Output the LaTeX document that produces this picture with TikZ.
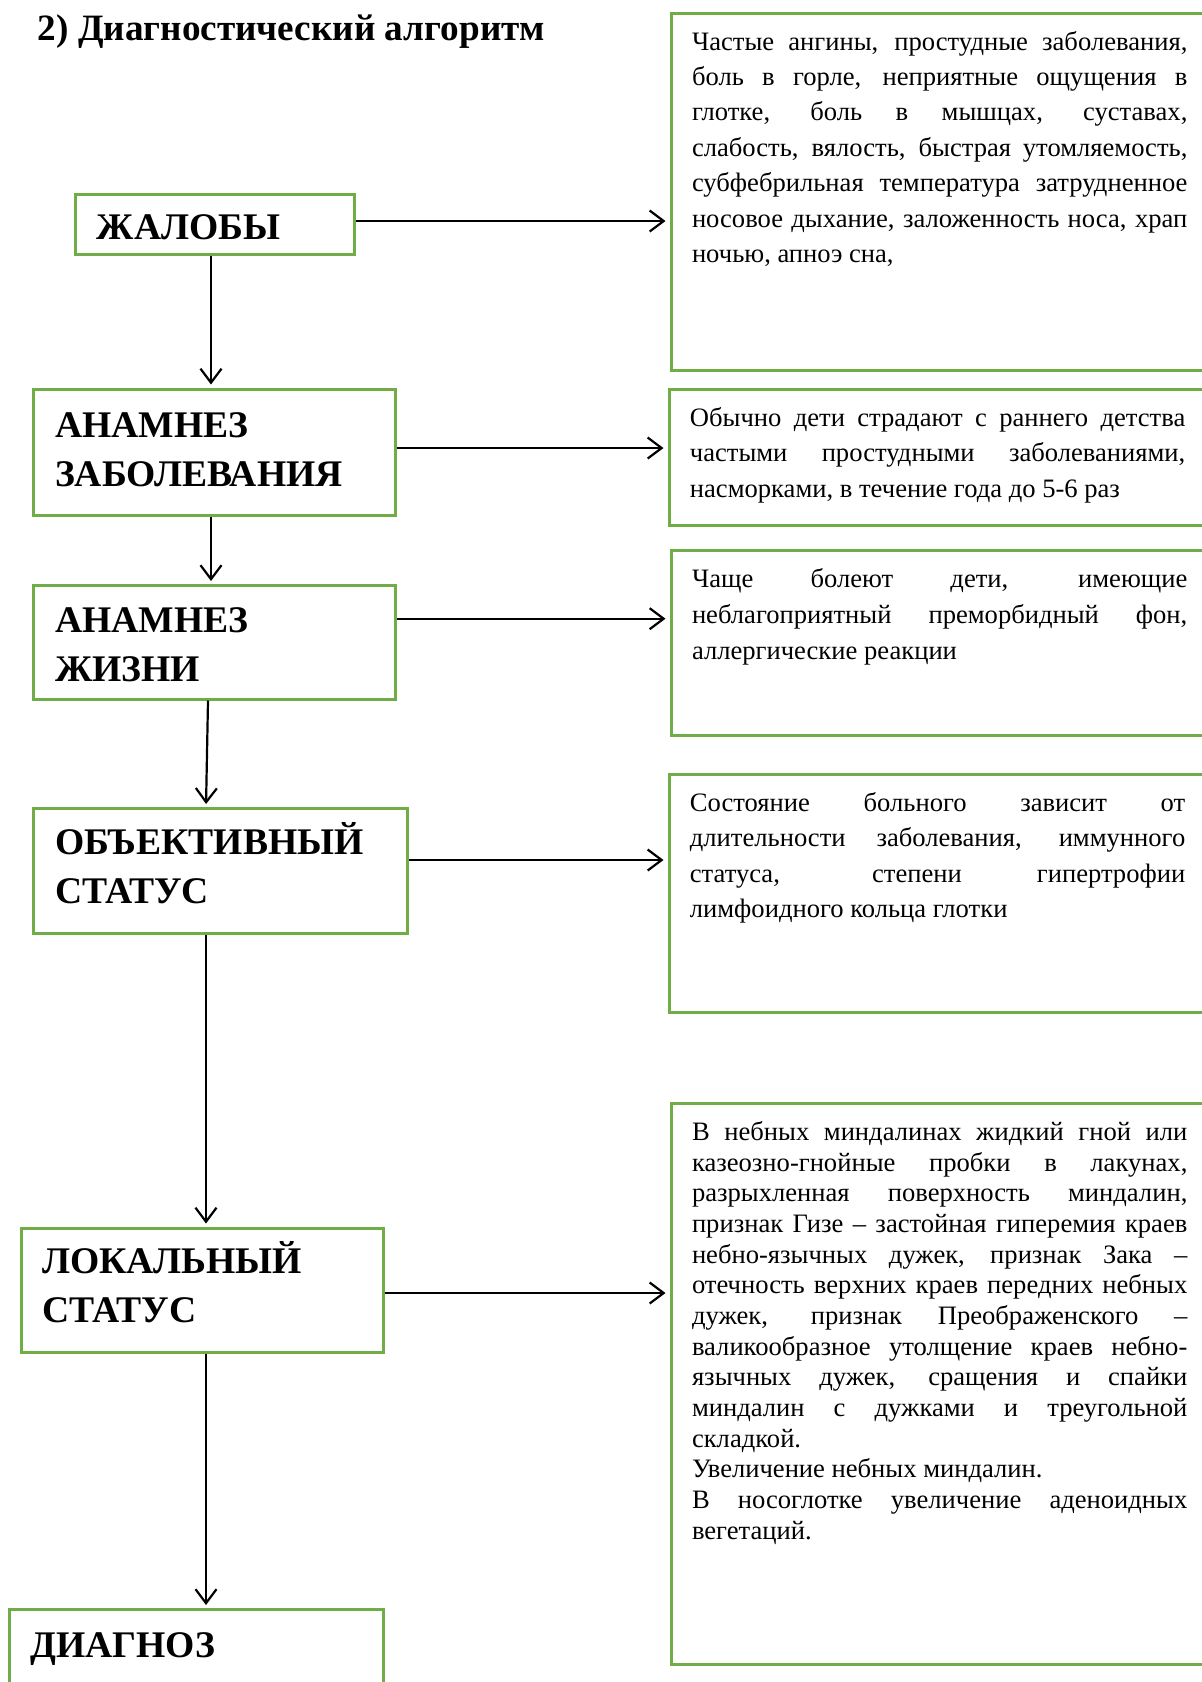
\documentclass[tikz,border=0pt]{standalone}
\usepackage{fontspec}
\setmainfont{Liberation Serif}
\usetikzlibrary{fit,arrows.meta}
\definecolor{boxgreen}{RGB}{112,173,71}
\newcommand\jl[1]{\hbox to 247.7pt{#1}}
\newcommand\lastl[1]{\hbox{#1}}
\begin{document}
\begin{tikzpicture}[x=0.5pt,y=-0.5pt,
  gbox/.style={draw=boxgreen, line width=1.5pt, inner sep=0pt},
  ltext/.style={inner sep=0pt, anchor=base west, font=\bfseries\fontsize{18.8}{24.5}\selectfont},
  titletext/.style={inner sep=0pt, anchor=base west, font=\bfseries\fontsize{18.6}{22}\selectfont},
  rtext/.style={inner sep=0pt, anchor=base west, font=\fontsize{13.3}{17.7}\selectfont},
  arr/.style={line width=1.1pt, -{Straight Barb[length=7pt,width=10.5pt,line width=1.1pt]}, shorten >=1.5pt},
  harr/.style={arr, shorten >=2pt},
]
\clip (0,0) rectangle (1202,1682);
\fill[white] (0,0) rectangle (1202,1682);

% title
\node[titletext] (title) at (37.5,40.5) {2) Диагностический алгоритм};

% left boxes
\node[gbox, fit={(75,194) (354,254)}] (b1) {};
\node[gbox, fit={(33,389) (395,515)}] (b2) {};
\node[gbox, fit={(33,585.5) (395,699)}] (b3) {};
\node[gbox, fit={(33,808.5) (407.5,933)}] (b4) {};
\node[gbox, fit={(21.4,1228) (383,1352)}] (b5) {};
\node[gbox, fit={(9.7,1609.5) (383,1700)}] (b6) {};

\node[ltext] (b1t) at (96.5,239.5) {ЖАЛОБЫ};
\node[ltext] (b2t) at (54.7,437.3) {\vtop{\hbox{АНАМНЕЗ}\hbox{ЗАБОЛЕВАНИЯ}}};
\node[ltext] (b3t) at (54.7,632.5) {\vtop{\hbox{АНАМНЕЗ}\hbox{ЖИЗНИ}}};
\node[ltext] (b4t) at (54.7,854.4) {\vtop{\hbox{ОБЪЕКТИВНЫЙ}\hbox{СТАТУС}}};
\node[ltext] (b5t) at (41.8,1273.7) {\vtop{\hbox{ЛОКАЛЬНЫЙ}\hbox{СТАТУС}}};
\node[ltext] (b6t) at (30,1657.6) {ДИАГНОЗ};

% right boxes
\node[gbox, fit={(671,13) (1230,370)}] (r1) {};
\node[gbox, fit={(669,389) (1230,525.5)}] (r2) {};
\node[gbox, fit={(671,550) (1230,735.6)}] (r3) {};
\node[gbox, fit={(669,774) (1230,1012)}] (r4) {};
\node[gbox, fit={(671,1103.4) (1230,1664)}] (r5) {};

\node[rtext] (r1t) at (691.6,50) {\vtop{%
\jl{Частые ангины, простудные заболевания,}
\jl{боль в горле, неприятные ощущения в}
\jl{глотке, боль в мышцах, суставах,}
\jl{слабость, вялость, быстрая утомляемость,}
\jl{субфебрильная температура затрудненное}
\jl{носовое дыхание, заложенность носа, храп}
\lastl{ночью, апноэ сна,}}};

\node[rtext] (r2t) at (689.5,426.3) {\vtop{%
\jl{Обычно дети страдают с раннего детства}
\jl{частыми простудными заболеваниями,}
\lastl{насморками, в течение года до 5-6 раз}}};

\node[rtext, font=\fontsize{13.3}{17.96}\selectfont] (r3t) at (691.6,587.2) {\vtop{%
\jl{Чаще болеют дети, имеющие}
\jl{неблагоприятный преморбидный фон,}
\lastl{аллергические реакции}}};

\node[rtext] (r4t) at (689.5,811.2) {\vtop{%
\jl{Состояние больного зависит от}
\jl{длительности заболевания, иммунного}
\jl{статуса, степени гипертрофии}
\lastl{лимфоидного кольца глотки}}};

\node[rtext, font=\fontsize{13.3}{15.34}\selectfont] (r5t) at (691.6,1140.5) {\vtop{%
\jl{В небных миндалинах жидкий гной или}
\jl{казеозно-гнойные пробки в лакунах,}
\jl{разрыхленная поверхность миндалин,}
\jl{признак Гизе – застойная гиперемия краев}
\jl{небно-язычных дужек, признак Зака –}
\jl{отечность верхних краев передних небных}
\jl{дужек, признак Преображенского –}
\jl{валикообразное утолщение краев небно-}
\jl{язычных дужек, сращения и спайки}
\jl{миндалин с дужками и треугольной}
\lastl{складкой.}
\lastl{Увеличение небных миндалин.}
\jl{В носоглотке увеличение аденоидных}
\lastl{вегетаций.}}};

% connector guide coordinates
\coordinate (h1) at (0,221);
\coordinate (h2) at (0,448);
\coordinate (h3) at (0,618.7);
\coordinate (h4) at (0,860);
\coordinate (h5) at (0,1293);
\coordinate (v1) at (211,0);
\coordinate (v3a) at (208,0);
\coordinate (v3b) at (206,0);

% horizontal arrows
\draw[harr] (b1.east |- h1) -- (r1.west |- h1);
\draw[harr] (b2.east |- h2) -- (r2.west |- h2);
\draw[harr] (b3.east |- h3) -- (r3.west |- h3);
\draw[harr] (b4.east |- h4) -- (r4.west |- h4);
\draw[harr] (b5.east |- h5) -- (r5.west |- h5);

% vertical arrows
\draw[arr] (b1.south -| v1) -- (b2.north -| v1);
\draw[arr] (b2.south -| v1) -- (b3.north -| v1);
\draw[arr] (b3.south -| v3a) -- (b4.north -| v3b);
\draw[arr] (b4.south -| v3b) -- (b5.north -| v3b);
\draw[arr] (b5.south -| v3b) -- (b6.north -| v3b);
\end{tikzpicture}
\end{document}
